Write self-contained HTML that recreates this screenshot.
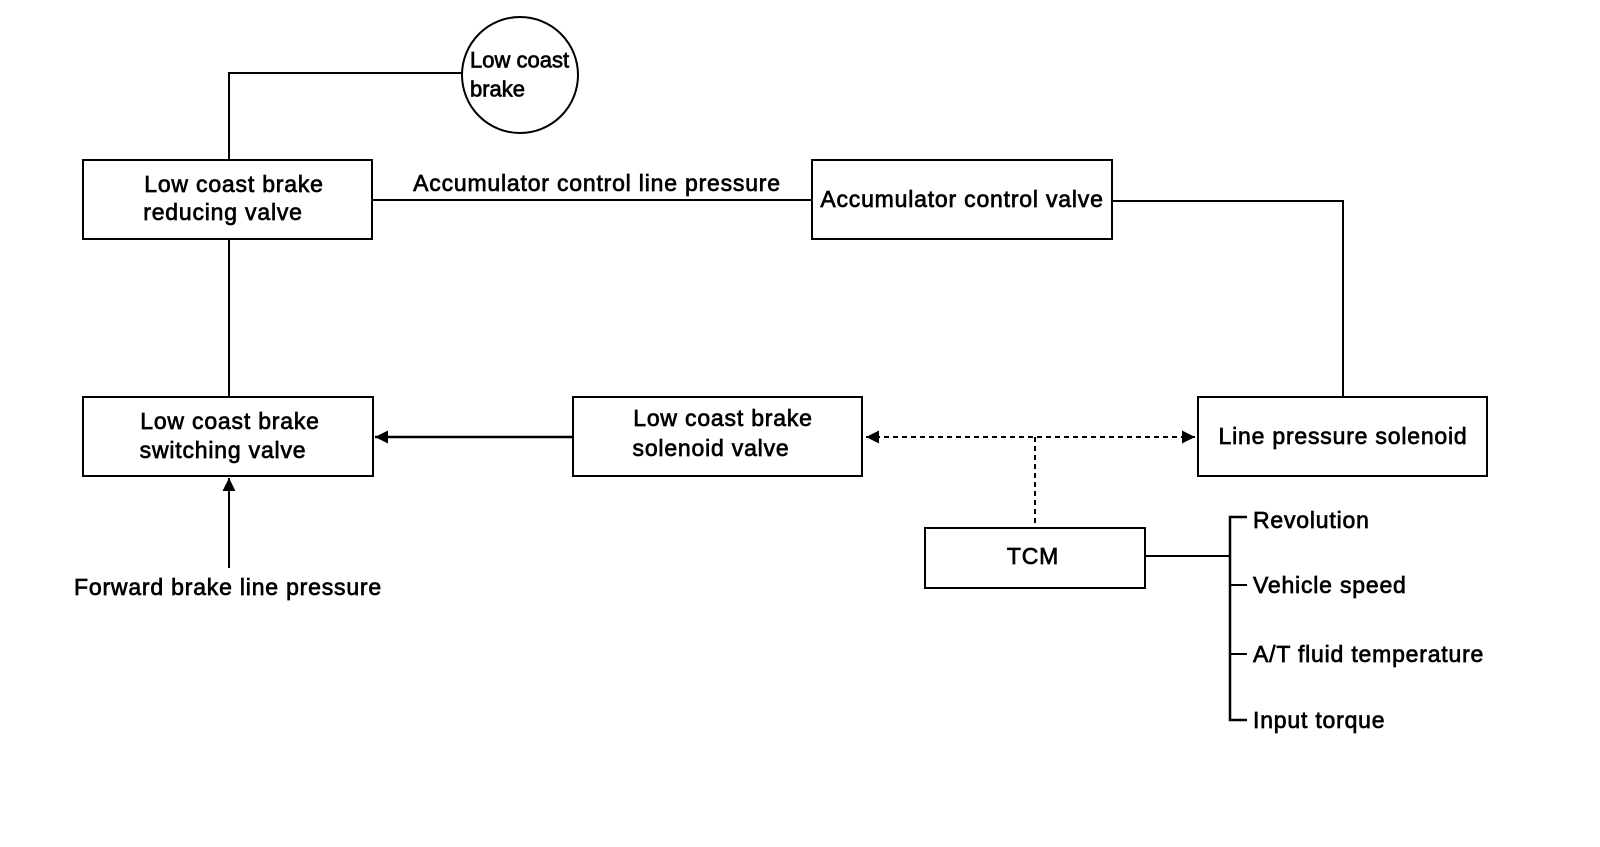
<!DOCTYPE html>
<html><head><meta charset="utf-8"><style>
html,body{margin:0;padding:0;background:#fff;}
svg text{font-family:"Liberation Sans",Arial,sans-serif;font-size:23px;letter-spacing:0.8px;fill:#000;stroke:#000;stroke-width:0.7;dominant-baseline:central;}
svg text.c{font-size:22px;letter-spacing:0;}
</style></head><body>
<svg width="1600" height="842" viewBox="0 0 1600 842" xmlns="http://www.w3.org/2000/svg">
<defs>
<marker id="ah" viewBox="0 0 10 10" refX="10" refY="5" markerWidth="13" markerHeight="13" markerUnits="userSpaceOnUse" orient="auto-start-reverse"><path d="M0,0 L10,5 L0,10 z" fill="#000"/></marker>
</defs>
<g fill="none" stroke="#000" stroke-width="2">
<circle cx="520" cy="75" r="58"/>
<polyline points="462,73 229,73 229,160"/>
<rect x="83" y="160" width="289" height="79"/>
<rect x="812" y="160" width="300" height="79"/>
<line x1="372" y1="200" x2="812" y2="200"/>
<polyline points="1112,201 1343,201 1343,397"/>
<rect x="1198" y="397" width="289" height="79"/>
<line x1="229" y1="239" x2="229" y2="397"/>
<rect x="83" y="397" width="290" height="79"/>
<rect x="573" y="397" width="289" height="79"/>
<line x1="573" y1="437" x2="375" y2="437" stroke-width="2.5" marker-end="url(#ah)"/>
<line x1="866" y1="437" x2="1195" y2="437" stroke-dasharray="5,4" marker-start="url(#ah)" marker-end="url(#ah)"/>
<line x1="1035" y1="437" x2="1035" y2="528" stroke-dasharray="5,4"/>
<rect x="925" y="528" width="220" height="60"/>
<line x1="229" y1="568" x2="229" y2="478" marker-end="url(#ah)"/>
<line x1="1145" y1="556" x2="1230" y2="556"/>
<polyline points="1247,517 1230,517 1230,720 1247,720" stroke-width="2.5"/>
<line x1="1230" y1="585" x2="1247" y2="585"/>
<line x1="1230" y1="654" x2="1247" y2="654"/>
</g>
<text class="c" x="470" y="60">Low coast</text>
<text class="c" x="470" y="89">brake</text>
<g text-anchor="middle">
<text x="234" y="184">Low coast brake</text>
<text x="223" y="212">reducing valve</text>
<text x="597" y="183">Accumulator control line pressure</text>
<text x="962" y="199">Accumulator control valve</text>
<text x="230" y="421">Low coast brake</text>
<text x="223" y="450">switching valve</text>
<text x="723" y="418">Low coast brake</text>
<text x="711" y="448">solenoid valve</text>
<text x="1343" y="436">Line pressure solenoid</text>
<text x="1033" y="556">TCM</text>
<text x="228" y="587">Forward brake line pressure</text>
</g>
<text x="1253" y="520">Revolution</text>
<text x="1253" y="585">Vehicle speed</text>
<text x="1253" y="654">A/T fluid temperature</text>
<text x="1253" y="720">Input torque</text>
</svg>
</body></html>
